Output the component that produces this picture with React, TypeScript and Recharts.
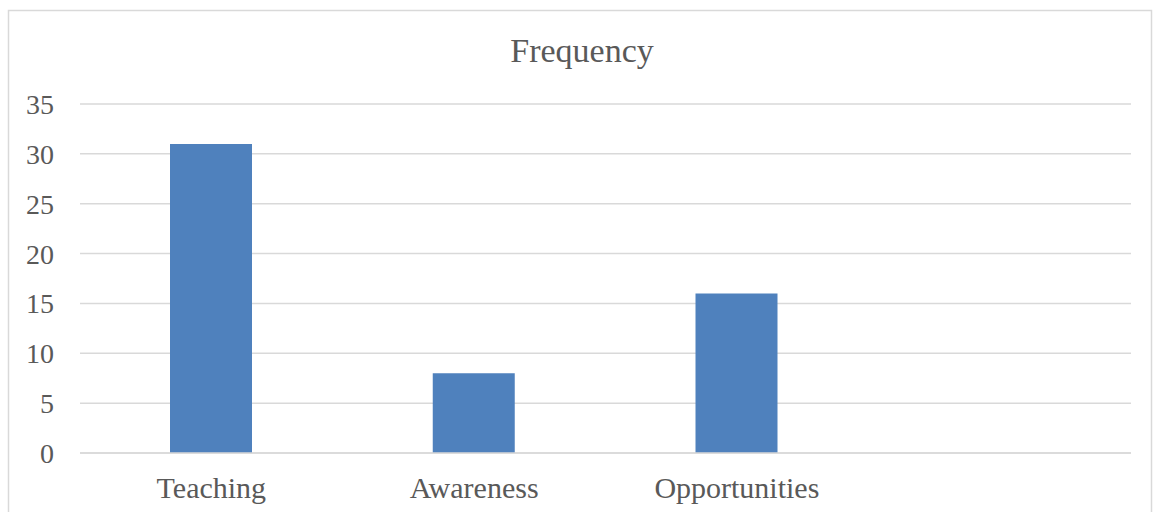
import React from 'react';
import { BarChart, Bar, XAxis, YAxis, CartesianGrid } from 'recharts';

// Categories along the x axis (the last slot is left blank)
const categories: string[] = ['Teaching', 'Awareness', 'Opportunities', ''];
// Frequency count for each category
const frequency: (number | null)[] = [31, 8, 16, null];
// Value-axis ticks
const yTicks: number[] = [0, 5, 10, 15, 20, 25, 30, 35];

const chartTitle = 'Frequency';

const data = categories.map((name, i) => ({ name, value: frequency[i] }));

const FONT = '"Liberation Serif", "Times New Roman", serif';
const TEXT = '#595959';
const GRID = '#d9d9d9';
const BAR = '#4f81bd';

export default function App() {
  return (
    <div style={{ position: 'absolute', left: 0, top: 0, width: 1160, height: 512, background: '#fff' }}>
      <BarChart
        width={1160}
        height={512}
        data={data}
        margin={{ top: 104, right: 29, bottom: 0, left: 0 }}
        style={{ position: 'absolute', left: 0, top: 0 }}
      >
        <CartesianGrid vertical={false} stroke={GRID} strokeWidth={1.5} />
        <XAxis
          dataKey="name"
          height={59}
          tickLine={false}
          axisLine={{ stroke: GRID, strokeWidth: 1.5 }}
          tickMargin={18}
          interval={0}
          tick={{ fill: TEXT, fontSize: 30, fontFamily: FONT }}
        />
        <YAxis
          width={80}
          domain={[0, 35]}
          ticks={yTicks}
          tickLine={false}
          axisLine={false}
          tickMargin={20}
          interval={0}
          tick={{ fill: TEXT, fontSize: 28, fontFamily: FONT }}
        />
        <Bar dataKey="value" fill={BAR} barSize={82} isAnimationActive={false} />
      </BarChart>
      <svg
        width={1160}
        height={512}
        style={{ position: 'absolute', left: 0, top: 0, pointerEvents: 'none' }}
      >
        <path d="M8.5,512 V10.5 H1151.5 V512" fill="none" stroke={GRID} strokeWidth={1.5} />
        <text x={582} y={62} textAnchor="middle" fill={TEXT} fontSize={34} fontFamily={FONT}>
          {chartTitle}
        </text>
      </svg>
    </div>
  );
}
